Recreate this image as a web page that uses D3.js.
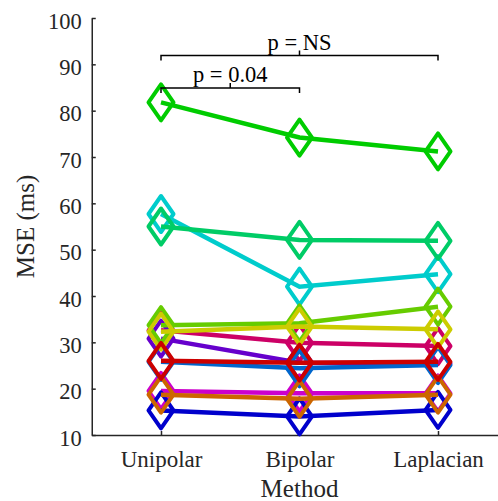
<!DOCTYPE html>
<html>
<head>
<meta charset="utf-8">
<script src="https://cdn.jsdelivr.net/npm/d3@7"></script>
<style>
body { margin: 0; background: #fff; }
text { font-family: "Liberation Serif", "Times New Roman", serif; fill: #262626; }
</style>
</head>
<body>
<svg id="chart" width="498" height="501"></svg>
<script>
// one value per subject, in the same order as colours
var methods = ["Unipolar", "Bipolar", "Laplacian"];
var colors = ["#cc0000", "#cc6600", "#cccc00", "#66cc00", "#00cc00", "#00cc66",
	"#00cccc", "#0066cc", "#0000cc", "#6600cc", "#cc00cc", "#cc0066"];
var unipolar  = [26.0, 18.7, 32.3, 33.7, 81.8, 55.0, 57.7, 25.8, 15.3, 30.8, 19.5, 32.6];
var bipolar   = [25.6, 17.8, 33.4, 34.1, 74.2, 52.1, 42.0, 24.4, 14.0, 25.6, 19.0, 29.9];
var laplacian = [25.8, 18.7, 32.8, 37.7, 71.2, 51.9, 44.7, 25.1, 15.4, 25.4, 19.0, 29.2];
var yTicks = [10, 20, 30, 40, 50, 60, 70, 80, 90, 100];
var pLabels = ["p = 0.04", "p = NS"];
var pPairs = [[1, 2], [1, 3]];
var pLevels = [85, 92];

var svg = d3.select('#chart');

var x = d3.scaleLinear().domain([0.5, 3.5]).range([91.75, 507.25]);
var y = d3.scaleLinear().domain([10, 100]).range([435, 18]);

// axes
var yAxis = d3.axisLeft(y).tickValues(yTicks).tickSizeInner(-4).tickSizeOuter(0).tickPadding(10);
var gy = svg.append('g').attr('transform', 'translate(' + x(0.5) + ',0)').call(yAxis);
gy.selectAll('text').attr('dy', 10).style('font-size', '22.5px').style('fill', '#262626');

var xAxis = d3.axisBottom(x).tickValues([1, 2, 3])
	.tickFormat(function(d){ return methods[d - 1]; })
	.tickSizeInner(-4).tickSizeOuter(0);
var gx = svg.append('g').attr('transform', 'translate(0,' + y(10) + ')').call(xAxis);
gx.selectAll('text').attr('y', 31.7).attr('dy', 0).style('font-size', '23px').style('fill', '#262626');

svg.selectAll('.domain, .tick line').attr('stroke', '#262626').attr('stroke-width', 1.5);
svg.selectAll('g').attr('font-family', null);

svg.append('text')
	.attr('x', x(2)).attr('y', 496.5)
	.attr('text-anchor', 'middle')
	.style('font-size', '25px')
	.text('Method');

svg.append('text')
	.attr('transform', 'translate(33.5,' + y(55) + ') rotate(-90)')
	.attr('text-anchor', 'middle')
	.style('font-size', '25px')
	.text('MSE (ms)');

// subjects, drawn last colour first
var series = [];
for (var i = 0; i < colors.length; i++) {
	series.push({color: colors[i], vals: [unipolar[i], bipolar[i], laplacian[i]]});
}
series.reverse();

var line = d3.line()
	.x(function(d, j){ return x(j + 1); })
	.y(function(d){ return y(d); });

var hw = 12.5, hh = 18;
function diamond(cx, cy) {
	return 'M' + cx + ',' + (cy - hh) + 'L' + (cx + hw) + ',' + cy +
		'L' + cx + ',' + (cy + hh) + 'L' + (cx - hw) + ',' + cy + 'Z';
}

var groups = svg.selectAll('g.subject').data(series).enter()
	.append('g').attr('class', 'subject');

groups.append('path')
	.attr('d', function(d){ return line(d.vals); })
	.attr('fill', 'none')
	.attr('stroke', function(d){ return d.color; })
	.attr('stroke-width', 4.5);

groups.each(function(d){
	d3.select(this).selectAll('path.mk').data(d.vals).enter()
		.append('path').attr('class', 'mk')
		.attr('d', function(v, j){ return diamond(x(j + 1), y(v)); })
		.attr('fill', 'none')
		.attr('stroke', d.color)
		.attr('stroke-width', 4)
		.attr('stroke-linejoin', 'round');
});

// significance brackets
for (var k = 0; k < pLabels.length; k++) {
	var x0 = x(pPairs[k][0]), x1 = x(pPairs[k][1]), yy = y(pLevels[k]) + 0.5;
	var xm = (x0 + x1) / 2;
	svg.append('path')
		.attr('d', 'M' + x0 + ',' + (yy + 5) + 'V' + yy + 'H' + x1 + 'V' + (yy + 5) +
			'M' + xm + ',' + yy + 'V' + (yy - 5))
		.attr('fill', 'none')
		.attr('stroke', '#000')
		.attr('stroke-width', 1.5);
	svg.append('text')
		.attr('x', xm).attr('y', yy - 6)
		.attr('text-anchor', 'middle')
		.style('font-size', '22.5px')
		.style('fill', '#000')
		.text(pLabels[k]);
}
</script>
</body>
</html>
